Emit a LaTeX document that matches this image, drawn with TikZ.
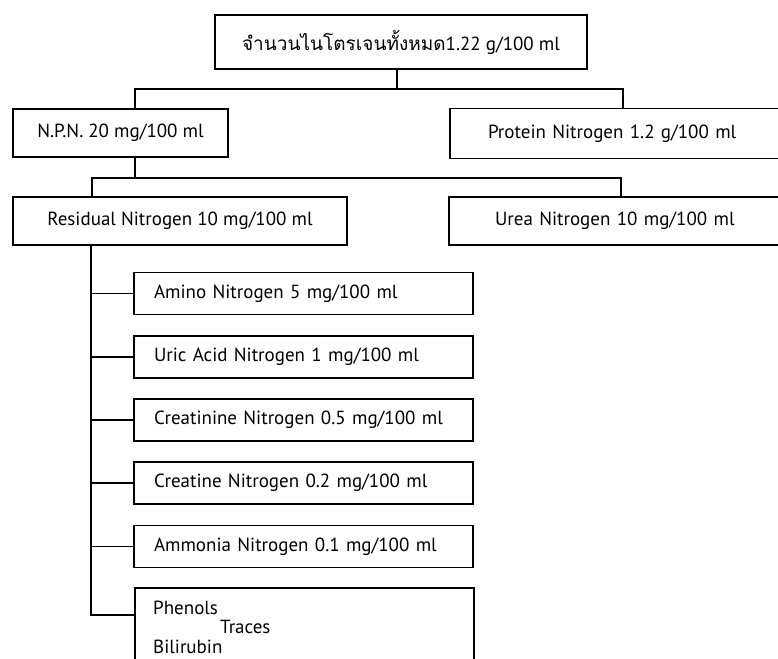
\documentclass[tikz,border=0pt]{standalone}
\usepackage{fontspec}
\setmainfont{PT Sans}
\newfontfamily\thaifont[Script=Thai]{Loma}
\begin{document}
\begin{tikzpicture}[x=1pt,y=-1pt,
  lbl/.style={font=\fontsize{19}{22}\selectfont},
  box/.style={draw, line width=1.8pt, inner sep=0pt, lbl},
  mainbox/.style={box, minimum height=48pt},
  subbox/.style={box, minimum width=339pt, minimum height=42pt, text width=299pt, align=left},
  conn/.style={line width=1.6pt}]
\useasboundingbox (0,0) rectangle (778,658);
\fill[white] (0,0) rectangle (778,658);
\clip (0,0) rectangle (778,658);
% level 0
\node[box, minimum width=372pt, minimum height=54pt] (top) at (401,42)
  {{\thaifont จำนวนไนโตรเจนทั้งหมด}1.22 g/100 ml};
% level 1
\node[mainbox, minimum width=215pt] (npn) at (120.5,133) {N.P.N. 20 mg/100 ml};
\node[mainbox, minimum width=348pt, minimum height=50pt, text width=272pt, align=left] (protein) at (624,133.5) {Protein Nitrogen 1.2 g/100 ml};
% level 2
\node[mainbox, minimum width=334pt] (res) at (180,221) {Residual Nitrogen 10 mg/100 ml};
\node[mainbox, minimum width=348pt, text width=256pt, align=left] (urea) at (623,221) {Urea Nitrogen 10 mg/100 ml};
% level 3
\node[subbox] (amino) at (303.5,293.5) {Amino Nitrogen 5 mg/100 ml};
\node[subbox] (uric) at (303.5,357) {Uric Acid Nitrogen 1 mg/100 ml};
\node[subbox] (creatinine) at (303.5,420) {Creatinine Nitrogen 0.5 mg/100 ml};
\node[subbox] (creatine) at (303.5,483) {Creatine Nitrogen 0.2 mg/100 ml};
\node[subbox] (ammonia) at (303.5,546.5) {Ammonia Nitrogen 0.1 mg/100 ml};
\node[draw, line width=1.8pt, inner sep=0pt, minimum width=339pt, minimum height=100pt, anchor=north west] (traces) at (134,587) {};
\node[lbl, anchor=west, inner sep=0pt] (phenols) at (153,608) {Phenols};
\node[lbl, anchor=west, inner sep=0pt] (tr) at (220,627) {Traces};
\node[lbl, anchor=west, inner sep=0pt] (bili) at (153,647) {Bilirubin};
% connectors level 0 -> 1
\coordinate (j0) at (397,89);
\coordinate (j0l) at (135,89);
\coordinate (j0r) at (623,89);
\draw[conn] (top.south -| j0) -- (j0);
\draw[conn] (npn.north -| j0l) -- (j0l) -- (j0r) -- (protein.north -| j0r);
% connectors level 1 -> 2
\coordinate (j1) at (135,178);
\coordinate (j1l) at (92,178);
\coordinate (j1r) at (621,178);
\draw[conn] (npn.south -| j1) -- (j1);
\draw[conn] (res.north -| j1l) -- (j1l) -- (j1r) -- (urea.north -| j1r);
% trunk level 2 -> 3
\coordinate (tk) at (91,615);
\draw[conn] (res.south -| tk) -- (tk) -- (traces.west |- tk);
\foreach \n in {amino,uric,creatinine,creatine,ammonia}
  \draw[conn] (\n.west) -- (\n.west -| tk);
\end{tikzpicture}
\end{document}
